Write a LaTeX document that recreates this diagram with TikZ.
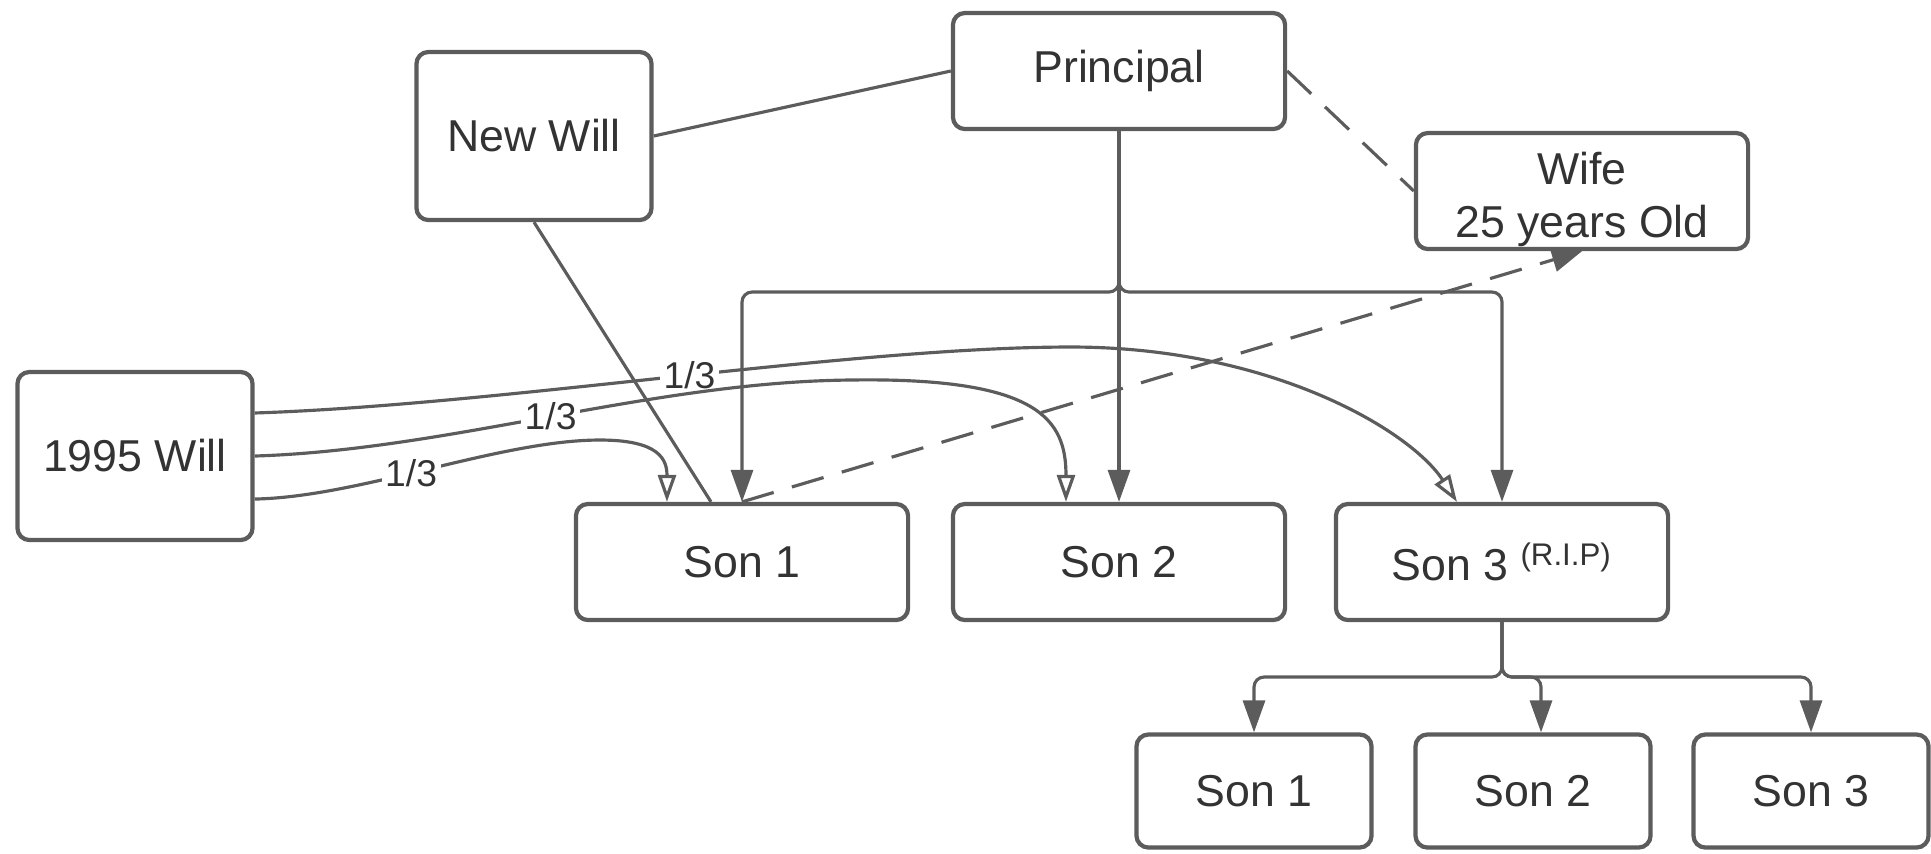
\documentclass[tikz,border=0pt]{standalone}
\usepackage{fontspec}
\setmainfont{Liberation Sans}
\usetikzlibrary{arrows.meta}
\definecolor{edgegray}{RGB}{92,92,92}
\definecolor{textgray}{RGB}{51,51,51}
\tikzset{
  box/.style={draw=edgegray, line width=1.2pt, rounded corners=0.12cm, fill=white,
    text=textgray, font=\fontsize{12.7}{15}\selectfont, align=center, inner sep=0pt},
  wide/.style={box, minimum width=3.32cm, minimum height=1.16cm},
  tall/.style={box, minimum width=2.35cm, minimum height=1.68cm},
  small/.style={box, minimum width=2.35cm, minimum height=1.13cm},
  link/.style={draw=edgegray, line width=0.9pt},
  tree/.style={link, rounded corners=0.1cm, -{Triangle[length=0.32cm,width=0.22cm]}},
  share/.style={link, -{Triangle[open,length=0.27cm,width=0.18cm]}},
  dashline/.style={link, dash pattern=on 9.4pt off 5.4pt},
  frac/.style={fill=white, text=textgray, font=\fontsize{10.6}{12}\selectfont, inner sep=1pt}
}
\begin{document}
\begin{tikzpicture}[x=0.01cm, y=-0.01cm]
\useasboundingbox (0,0) rectangle (1931,853);
\node[wide] (prin) at (1119,71) {Principal};
\node[tall] (nwill) at (534,136) {New Will};
\node[wide] (wife) at (1582,191)
  {\raisebox{-0.2cm}[0pt][0pt]{\begin{tabular}{@{}c@{}}Wife\\25 years Old\end{tabular}}};
\node[tall] (owill) at (135,456) {1995 Will};
\node[wide] (son1) at (742,562) {Son 1};
\node[wide] (son2) at (1119,562) {Son 2};
\node[wide] (son3) at (1502,562) {Son 3 \textsuperscript{(R.I.P)}};
\node[small] (gson1) at (1254,791) {Son 1};
\node[small] (gson2) at (1533,791) {Son 2};
\node[small] (gson3) at (1811,791) {Son 3};
\coordinate (pfork) at (1119,292);
\coordinate (sfork) at (1502,677);
\path[link] (nwill.east) -- (prin.west);
\path[link] (nwill.south) -- ([xshift=-0.31cm]son1.north);
\path[dashline] (prin.east) -- (wife.west);
\path[dashline, -{Triangle[length=0.3cm,width=0.24cm]}] (son1.north) -- (wife.south);
\path[tree] (prin.south) -- (pfork) -| (son1.north);
\path[tree] (prin.south) -- (son2.north);
\path[tree] (prin.south) -- (pfork) -| (son3.north);
\path[tree] (son3.south) -- (sfork) -| (gson1.north);
\path[tree] (son3.south) -- (sfork) -| ([xshift=0.08cm]gson2.north);
\path[tree] (son3.south) -- (sfork) -| (gson3.north);
\path[share] ([yshift=0.43cm]owill.east) .. controls (500,405) and (850,347) .. (1071,347)
  node[frac, pos=0.52] {1/3}
  .. controls (1270,347) and (1410,430) .. ([xshift=-0.45cm]son3.north);
\path[share] (owill.east) .. controls (450,450) and (650,382) .. (850,380)
  node[frac, pos=0.5] {1/3}
  .. controls (1040,377) and (1066,420) .. ([xshift=-0.53cm]son2.north);
\path[share] ([yshift=-0.43cm]owill.east) .. controls (360,497) and (500,440) .. (600,440)
  node[frac, pos=0.45] {1/3}
  .. controls (660,440) and (667,460) .. ([xshift=-0.75cm]son1.north);
\end{tikzpicture}
\end{document}
